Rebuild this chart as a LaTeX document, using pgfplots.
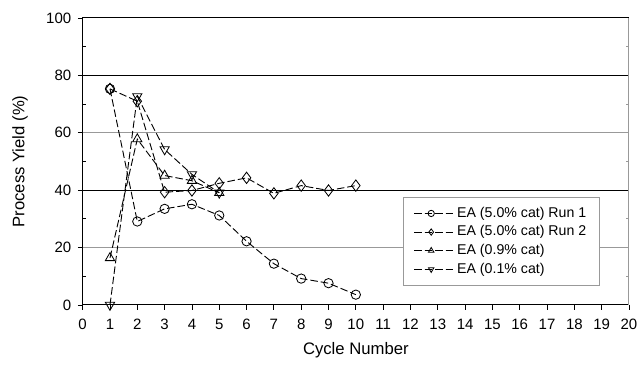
\documentclass[border=0pt]{standalone}
\usepackage{fontspec}
\setmainfont{Liberation Sans}
\usepackage{pgfplots}
\pgfplotsset{compat=1.18}
\begin{document}
\begin{tikzpicture}
\begin{axis}[
  at={(0,0)}, anchor=south west,
  scale only axis,
  width=327.8pt, height=172.2pt,
  xmin=0, xmax=20, ymin=0, ymax=100,
  xtick={0,...,20},
  ytick={0,20,...,100},
  minor ytick={10,30,...,90},
  tick pos=left,
  tick align=outside,
  major tick length=2.8pt,
  minor tick length=1.8pt,
  minor y tick style={xshift=1.8pt},
  tick style={black, line width=0.5pt},
  axis line style={black, line width=0.6pt},
  /pgf/number format/assume math mode=true,
  tick label style={font=\fontsize{9}{10}\selectfont},
  xticklabel style={yshift=-2pt},
  yticklabel style={xshift=-0.5pt},
  xlabel={Cycle Number},
  ylabel={Process Yield (\%)},
  label style={font=\fontsize{9}{10}\selectfont},
  every axis x label/.style={at={(axis description cs:0.5,-0.157)}, anchor=center},
  every axis y label/.style={at={(axis description cs:-0.1147,0.5)}, rotate=90, anchor=center},
  legend style={at={(rel axis cs:0.947,0.066)}, anchor=south east, draw=gray!80, line width=0.5pt,
    font=\fontsize{8.5}{10.8}\selectfont, inner xsep=6pt, inner ysep=4pt, row sep=-0.5pt},
  legend cell align=left,
  legend image code/.code={\draw[#1, mark size=1.9pt, mark repeat=2, mark phase=2] plot coordinates {(0pt,0pt) (10.2pt,0pt) (20.4pt,0pt)};
    \path (0pt,0pt) -- (23.5pt,0pt);},
  every axis plot/.append style={black, line width=0.55pt, dash pattern=on 4.5pt off 1.8pt,
    mark options={solid, fill=white, line width=0.5pt}},
]
% grid lines
\draw[gray!80, line width=0.6pt] (axis cs:0,20) -- (axis cs:20,20);
\draw[gray!80, line width=0.6pt] (axis cs:0,60) -- (axis cs:20,60);
\draw[black, line width=0.6pt] (axis cs:0,40) -- (axis cs:20,40);
\draw[black, line width=0.6pt] (axis cs:0,80) -- (axis cs:20,80);
\draw[gray!80, line width=0.6pt] (rel axis cs:1,0) -- (rel axis cs:1,1);
\pgfplotsinvokeforeach{10,30,50,70,90}{\draw[gray!80, line width=0.5pt] (axis cs:20,#1) -- ++(-1.8pt,0pt);}

\addplot[mark=o, mark size=2.8pt] coordinates {
 (1,75.3) (2,29.1) (3,33.5) (4,35.1) (5,31.2) (6,22.2) (7,14.4) (8,9.2) (9,7.6) (10,3.6)};
\addlegendentry{EA (5.0\% cat) Run 1}
\addplot[mark=diamond, mark size=3.4pt] coordinates {
 (1,75.3) (2,71.0) (3,39.3) (4,39.9) (5,42.4) (6,44.3) (7,38.9) (8,41.6) (9,39.9) (10,41.6)};
\addlegendentry{EA (5.0\% cat) Run 2}
\addplot[mark=triangle, mark size=3.2pt] coordinates {
 (1,16.4) (2,57.8) (3,45.1) (4,43.3) (5,39.1)};
\addlegendentry{EA (0.9\% cat)}
\addplot[mark=triangle, mark size=3.2pt, mark options={solid, fill=white, line width=0.5pt, rotate=180}] coordinates {
 (1,0) (2,72.7) (3,54.2) (4,45.5) (5,39.1)};
\addlegendentry{EA (0.1\% cat)}
\end{axis}
\pgfresetboundingbox
\path[use as bounding box] (-49.6pt,-39pt) rectangle (333.8pt,183pt);
\end{tikzpicture}
\end{document}
